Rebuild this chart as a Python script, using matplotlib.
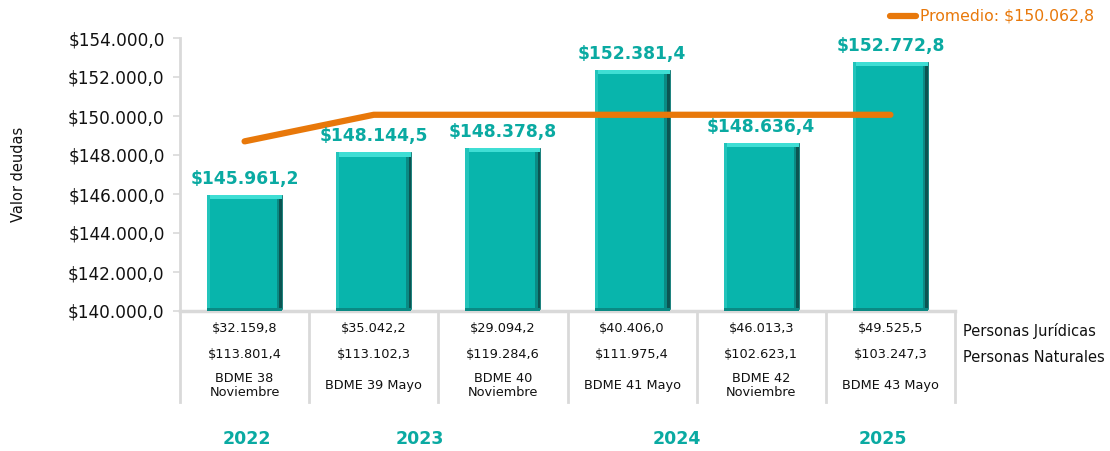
import matplotlib
matplotlib.use("Agg")
import matplotlib.pyplot as plt
import matplotlib.transforms as mtransforms
import numpy as np

# ---- data ----
labels = ["BDME 38\nNoviembre", "BDME 39 Mayo", "BDME 40\nNoviembre",
          "BDME 41 Mayo", "BDME 42\nNoviembre", "BDME 43 Mayo"]
totales = [145961.2, 148144.5, 148378.8, 152381.4, 148636.4, 152772.8]
juridicas = [32159.8, 35042.2, 29094.2, 40406.0, 46013.3, 49525.5]
naturales = [113801.4, 113102.3, 119284.6, 111975.4, 102623.1, 103247.3]
promedio_line = [148700.0, 150062.8, 150062.8, 150062.8, 150062.8, 150062.8]
promedio_label = "Promedio: $150.062,8"
years = ["2022", "2023", "2024", "2025"]
year_pos = [0.02, 1.36, 3.35, 4.94]
yticks = [140000, 142000, 144000, 146000, 148000, 150000, 152000, 154000]


def fmt(v):
    s = f"{v:,.1f}"
    s = s.replace(",", "X").replace(".", ",").replace("X", ".")
    return "$" + s


TEAL = "#08b5ac"
TEAL_TXT = "#0aaaa2"
ORANGE = "#e8780a"
GREY = "#d9d9d9"

W, H = 1110, 451
fig = plt.figure(figsize=(W / 100, H / 100), dpi=100)
plt.rcParams['font.family'] = ['DejaVu Sans']

left, right, top, bottom = 180, 955, 38, 311
ax = fig.add_axes([left / W, 1 - bottom / H, (right - left) / W, (bottom - top) / H])

x = np.arange(len(totales))
bw = 0.58
base = 140000
heights = [v - base for v in totales]

# main bars
ax.bar(x, heights, width=bw, bottom=base, color=TEAL, edgecolor="#0d7470",
       linewidth=0.6, zorder=2)
# bevel: right dark strips (gradient)
ax.bar(x + bw / 2 - 0.02, heights, width=0.04, bottom=base, color="#0a8a84",
       linewidth=0, zorder=3)
ax.bar(x + bw / 2 - 0.01, heights, width=0.02, bottom=base, color="#0b5552",
       linewidth=0, zorder=3)
# bevel: top light strip
ax.bar(x, [230] * len(x), width=bw, bottom=[v - 230 for v in totales],
       color="#3fded4", linewidth=0, zorder=3)
# bevel: left slightly lighter strip
ax.bar(x - bw / 2 + 0.012, heights, width=0.024, bottom=base, color="#22c4bb",
       linewidth=0, zorder=3)
# bevel: bottom dark strip
ax.bar(x, [130] * len(x), width=bw, bottom=base, color="#0a8a84",
       linewidth=0, zorder=3)

# value labels
for xi, v in zip(x, totales):
    ax.annotate(fmt(v), (xi, v), xytext=(0, 5), textcoords="offset points",
                ha="center", va="bottom", fontsize=12.3, fontweight="bold",
                color=TEAL_TXT, zorder=5)

# average line
ax.plot(x, promedio_line, color=ORANGE, linewidth=4.5, solid_capstyle="round",
        zorder=4)

ax.set_xlim(-0.5, len(x) - 0.5)
ax.set_ylim(140000, 154000)
ax.set_yticks(yticks)
ax.set_yticklabels([fmt(t) for t in yticks], fontsize=12.2, color="#111111")
ax.set_xticks([])
for s in ["top", "right"]:
    ax.spines[s].set_visible(False)
ax.spines["left"].set_color(GREY)
ax.spines["left"].set_linewidth(2)
ax.spines["bottom"].set_color(GREY)
ax.spines["bottom"].set_linewidth(2.5)
ax.tick_params(axis="y", length=5, color=GREY, width=1.2, pad=6)
ax.set_ylabel("Valor deudas", fontsize=10.5, color="#111111", labelpad=30)

# table below
trans = mtransforms.blended_transform_factory(ax.transData, fig.transFigure)
fy = lambda py: 1 - py / H
for b in np.arange(-0.5, len(x) + 0.5, 1.0):
    fig.add_artist(plt.Line2D([b, b], [fy(311), fy(402)], transform=trans,
                              color=GREY, linewidth=2))
for xi in x:
    fig.text(xi, fy(328), fmt(juridicas[xi]), transform=trans, ha="center",
             va="center", fontsize=9.3, color="#111111")
    fig.text(xi, fy(354), fmt(naturales[xi]), transform=trans, ha="center",
             va="center", fontsize=9.3, color="#111111")
    fig.text(xi, fy(386), labels[xi], transform=trans, ha="center",
             va="center", fontsize=9.3, color="#111111", linespacing=1.1)

fig.text(963 / W, fy(331), "Personas Jurídicas", ha="left", va="center",
         fontsize=10.5, color="#111111")
fig.text(963 / W, fy(357), "Personas Naturales", ha="left", va="center",
         fontsize=10.5, color="#111111")

for yp, yl in zip(year_pos, years):
    fig.text(yp, fy(439), yl, transform=trans, ha="center", va="center",
             fontsize=12.5, fontweight="bold", color=TEAL_TXT)

# legend
fig.add_artist(plt.Line2D([890 / W, 916 / W], [fy(16), fy(16)],
                          color=ORANGE, linewidth=4.5, solid_capstyle="round"))
fig.text(920 / W, fy(16), promedio_label, ha="left", va="center",
         fontsize=11.3, color=ORANGE)

fig.savefig("out.png", dpi=100)
